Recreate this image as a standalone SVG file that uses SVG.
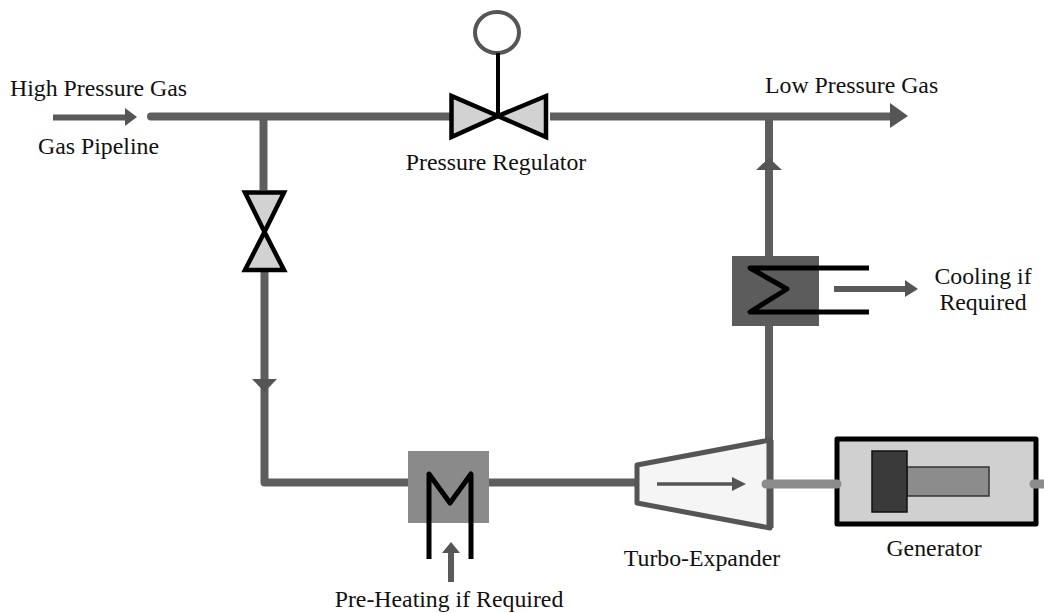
<svg xmlns="http://www.w3.org/2000/svg" width="1044" height="613" viewBox="0 0 1044 613">
<style>
text{font-family:"Liberation Serif","Times New Roman",serif;font-size:23.800px;fill:#111}
.m{text-anchor:middle}
.pipe{fill:none;stroke:#5e5e5e;stroke-width:8}
.thin{fill:none;stroke:#5a5a5a;stroke-width:6}
.head{fill:#555}
.shaft{fill:none;stroke:#8c8c8c;stroke-width:9;stroke-linecap:round}
.coil{fill:none;stroke:#000;stroke-width:5;stroke-linejoin:round}
.valve{fill:#d2d2d2;stroke:#000;stroke-width:4.500}
</style>
<rect width="1044" height="613" fill="#fff"/>
<g id="connectors">
<path class="pipe" stroke-linecap="round" d="M151 116.500H450"/>
<path class="pipe" d="M263.500 116V190"/>
<path class="pipe" stroke-linejoin="round" d="M264.500 272V482.500H408"/>
<path class="pipe" d="M489 482.500H640"/>
<path class="pipe" d="M550 116.500H892"/>
<polygon class="head" points="890,103 908,116 890,128"/>
<path class="pipe" d="M769 116V256"/>
<polygon class="head" points="769,158 782,170 756,170"/>
<path class="pipe" d="M769 326V442"/>
<polygon class="head" points="252,379 277,379 264.500,392"/>
<path class="thin" d="M53 117.500H126"/>
<polygon class="head" points="125,108 137,117 125,126"/>
<path class="thin" d="M834 289H907"/>
<polygon class="head" points="905,280 918,289 905,297"/>
<path class="thin" d="M451 582V552"/>
<polygon class="head" points="451,542 460,553 442,553"/>
</g>
<g id="pressure-regulator">
<ellipse cx="497" cy="32.500" rx="22" ry="20.500" fill="#fff" stroke="#555" stroke-width="4"/>
<path d="M498 53V116" stroke="#000" stroke-width="4"/>
<polygon class="valve" points="451.500,96 451.500,137 498,116"/>
<polygon class="valve" points="546,96 546,137 498,116"/>
<text class="m" x="496" y="170">Pressure Regulator</text>
</g>
<g id="isolation-valve">
<polygon class="valve" points="245,192.500 284,192.500 264.500,232"/>
<polygon class="valve" points="245,270 284,270 264.500,232"/>
</g>
<g id="preheater">
<rect x="408" y="451" width="81" height="72" fill="#8a8a8a"/>
<path class="coil" d="M429 559V474L450 503L471 474V559"/>
<text class="m" x="449" y="607">Pre-Heating if Required</text>
</g>
<g id="cooler">
<rect x="732" y="256" width="87" height="70" fill="#5c5c5c"/>
<path class="coil" d="M869 268H750L787 289L750 312H869"/>
<text class="m" x="983" y="284">Cooling if</text>
<text class="m" x="983" y="310">Required</text>
</g>
<g id="turbo-expander">
<polygon points="637,465 770,440 770,528 637,503" fill="#f5f5f5" stroke="#555" stroke-width="5" stroke-linejoin="round"/>
<path d="M770 440V528" stroke="#555" stroke-width="7"/>
<path d="M657 484H735" stroke="#555" stroke-width="3.500"/>
<polygon class="head" points="732,477 746,484 732,491"/>
<text class="m" x="702" y="566">Turbo-Expander</text>
</g>
<g id="generator">
<rect x="837" y="439" width="199" height="85" fill="#d0d0d0" stroke="#000" stroke-width="5" stroke-linejoin="round"/>
<rect x="907" y="467" width="82" height="29" fill="#8c8c8c" stroke="#333" stroke-width="1.500"/>
<rect x="872" y="451" width="35" height="61" fill="#3a3a3a" stroke="#111" stroke-width="1.500"/>
<text class="m" x="934" y="556">Generator</text>
</g>
<g id="shafts">
<path class="shaft" d="M766 484H837"/>
<path class="shaft" d="M1034 484H1050"/>
</g>
<g id="stream-labels">
<text x="10" y="96">High Pressure Gas</text>
<text x="38" y="154">Gas Pipeline</text>
<text x="765" y="93">Low Pressure Gas</text>
</g>
</svg>
